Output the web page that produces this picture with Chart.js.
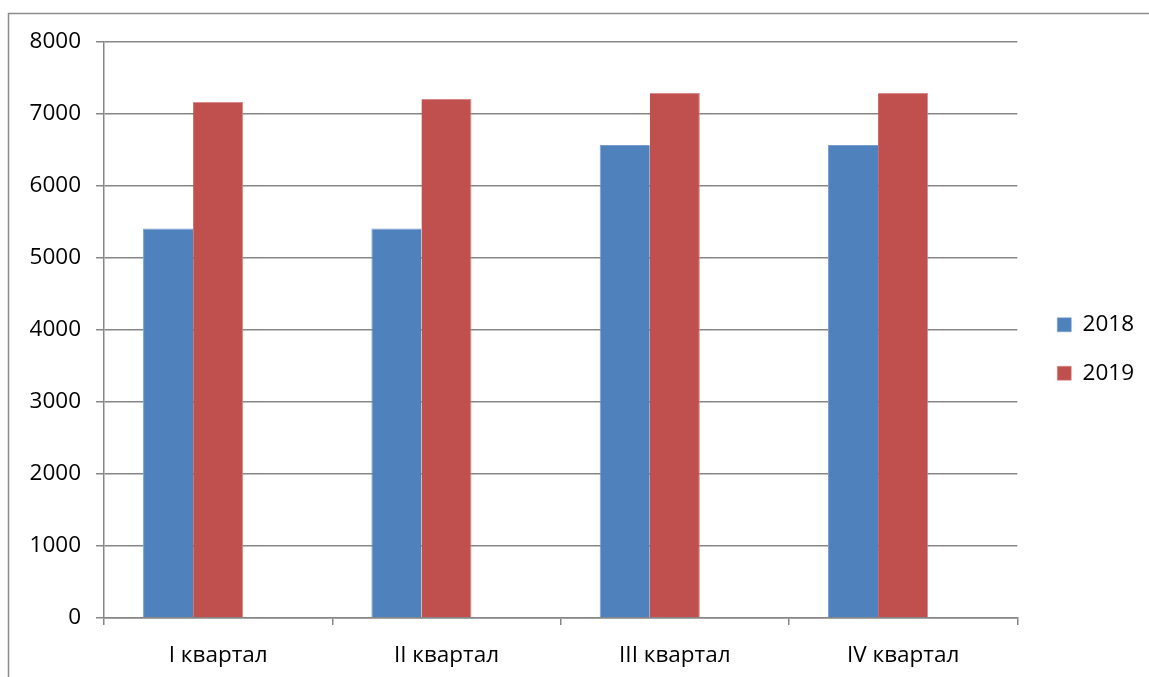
<!DOCTYPE html>
<html>
<head>
<meta charset="utf-8">
<script src="https://cdn.jsdelivr.net/npm/chart.js@4"></script>
<style>
html,body{margin:0;padding:0;background:#fff;}
#wrap{width:1149px;height:677px;position:relative;}
</style>
</head>
<body>
<div id="wrap"><canvas id="c" width="1149" height="677"></canvas></div>
<script>
const categories = ["I квартал", "II квартал", "III квартал", "IV квартал"];
const series2018 = [5410, 5410, 6570, 6570];
const series2019 = [7165, 7210, 7290, 7290];
const emptySeries = [null, null, null, null];
const yTicks = [0, 1000, 2000, 3000, 4000, 5000, 6000, 7000, 8000];

const FONT = "'Open Sans', 'DejaVu Sans', sans-serif";
const FS = 22.5;
const GRID = '#868686';

const frame = {
  id: 'frame',
  beforeDraw(chart) {
    const ctx = chart.ctx;
    ctx.save();
    ctx.strokeStyle = '#8c8c8c';
    ctx.lineWidth = 1.5;
    ctx.beginPath();
    ctx.moveTo(8.5, 677);
    ctx.lineTo(8.5, 13.5);
    ctx.lineTo(1149, 13.5);
    ctx.stroke();
    ctx.restore();
  }
};

const spacerBase = {
  type: 'linear',
  display: true,
  grid: { display: false, drawOnChartArea: false, drawTicks: false },
  border: { display: false },
  ticks: { display: false }
};

new Chart(document.getElementById('c'), {
  type: 'bar',
  data: {
    labels: categories,
    datasets: [
      { label: '2018', data: series2018, backgroundColor: '#4F81BD', borderColor: '#7A9FCE', borderWidth: {left:1,right:0,top:1,bottom:0} },
      { label: '2019', data: series2019, backgroundColor: '#C0504D', borderColor: '#D98A88', borderWidth: {left:0,right:1,top:1,bottom:0} },
      { label: '', data: emptySeries, backgroundColor: 'rgba(0,0,0,0)' }
    ]
  },
  options: {
    responsive: false,
    animation: false,
    devicePixelRatio: 1,
    layout: { padding: { left: 0, top: 21, right: 5, bottom: 0 } },
    datasets: { bar: { categoryPercentage: 0.658, barPercentage: 1 } },
    plugins: {
      legend: {
        position: 'right',
        align: 'center',
        labels: {
          font: { family: FONT, size: FS },
          color: '#000',
          boxWidth: 14,
          boxHeight: 14,
          padding: 26,
          filter: item => item.text !== ''
        }
      },
      tooltip: { enabled: false }
    },
    scales: {
      x: {
        grid: { display: true, drawOnChartArea: false, drawTicks: true, tickLength: 7, color: GRID, lineWidth: 1.5, offset: true },
        border: { display: true, color: GRID, width: 1.5 },
        ticks: { font: { family: FONT, size: FS }, color: '#000', padding: 17 },
        afterFit: s => { s.height = 59; }
      },
      y: {
        min: 0, max: 8000,
        afterBuildTicks: s => { s.ticks = yTicks.map(v => ({ value: v })); },
        grid: { color: GRID, lineWidth: 1.5, tickLength: 8 },
        border: { display: true, color: GRID, width: 1.5 },
        ticks: { font: { family: FONT, size: FS }, color: '#000', padding: 15, callback: v => String(v) },
        afterFit: s => { s.width = 104; }
      },
      spacerRight: Object.assign({}, spacerBase, { position: 'right', afterFit: s => { s.width = 14; } }),
      spacerTop: Object.assign({}, spacerBase, { position: 'top', afterFit: s => { s.height = 21; } })
    }
  },
  plugins: [frame]
});
</script>
</body>
</html>
